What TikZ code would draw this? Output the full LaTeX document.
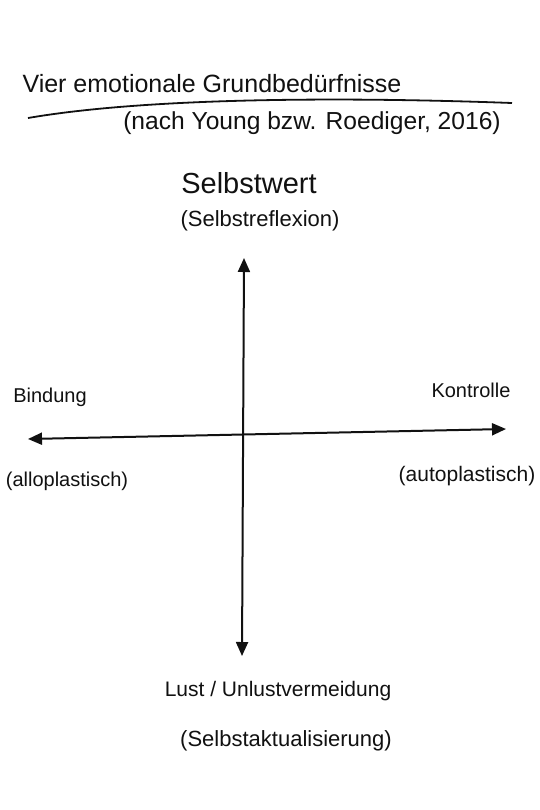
\documentclass[tikz,border=0pt]{standalone}
\usepackage{fontspec}
\setmainfont{Liberation Sans}
\usetikzlibrary{arrows.meta}
\definecolor{inkblack}{HTML}{111111}

\begin{document}
\begin{tikzpicture}[x=0.5pt,y=-0.5pt,
  label text/.style={text=inkblack,inner sep=0pt,font=\fontsize{10}{12}\selectfont},
  axis arrow/.style={draw=inkblack,line width=1pt,{Triangle[length=7pt,width=6pt]}-{Triangle[length=7pt,width=6pt]}}]
  \useasboundingbox[fill=white] (0,0) rectangle (540,810);
  % title
  \node[label text,font=\fontsize{12.5}{15}\selectfont] (title) at (212,84) {Vier emotionale Grundbedürfnisse};
  \node[label text,font=\fontsize{12.3}{15}\selectfont] (source) at (312,123) {(nach Young bzw. Roediger, 2016)};
  \draw[inkblack,line width=0.9pt] (28,118) .. controls (150,97) and (350,97) .. (512,103);
  % axes
  \coordinate (top) at (244,258);
  \coordinate (bottom) at (242,656);
  \coordinate (left) at (28,439);
  \coordinate (right) at (506,429);
  \draw[axis arrow] (bottom) -- (top);
  \draw[axis arrow] (left) -- (right);
  % needs
  \node[label text,font=\fontsize{14.5}{17}\selectfont] (selbstwert) at (249,183) {Selbstwert};
  \node[label text,font=\fontsize{11}{13}\selectfont] (reflexion) at (260,221) {(Selbstreflexion)};
  \node[label text] (bindung) at (50,397) {Bindung};
  \node[label text] (allo) at (67,481) {(alloplastisch)};
  \node[label text] (kontrolle) at (471,390) {Kontrolle};
  \node[label text,font=\fontsize{10.5}{12}\selectfont] (auto) at (467,476) {(autoplastisch)};
  \node[label text,font=\fontsize{10.5}{12}\selectfont] (lust) at (278,691) {Lust / Unlustvermeidung};
  \node[label text,font=\fontsize{11}{13}\selectfont] (aktual) at (286,741) {(Selbstaktualisierung)};
\end{tikzpicture}
\end{document}
